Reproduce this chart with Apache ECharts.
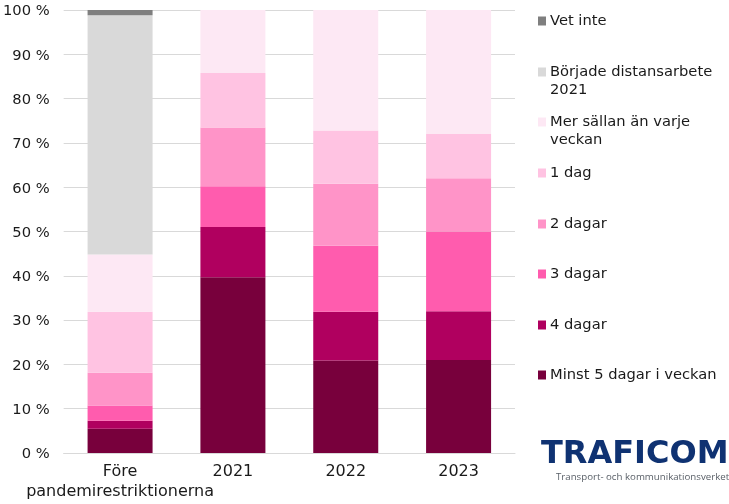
<!DOCTYPE html>
<html><head><meta charset="utf-8">
<script src="https://cdn.jsdelivr.net/npm/echarts@6/dist/echarts.min.js"></script>
<style>html,body{margin:0;padding:0;background:#fff}#c{width:729px;height:504px}</style>
</head><body><div id="c"></div>
<script>
const categories = ['Före\npandemirestriktionerna','2021','2022','2023'];
const minst5 = [5.5,39.7,20.9,21];
const dagar4 = [1.8,11.3,11,11];
const dagar3 = [3.4,9.2,14.9,18];
const dagar2 = [7.4,13.3,14,12];
const dag1 = [13.8,12.3,12,10];
const merSallan = [12.9,14.2,27.2,28];
const borjade = [54,0,0,0];
const vetInte = [1.2,0,0,0];
const tickFormat = v => '{a|' + v + ' %}';
const names = ['Minst 5 dagar i veckan','4 dagar','3 dagar','2 dagar','1 dag','Mer sällan än varje veckan','Började distansarbete 2021','Vet inte'];
const values = [minst5,dagar4,dagar3,dagar2,dag1,merSallan,borjade,vetInte];
const colors = ['#78003c','#b0005f','#ff5cae','#ff94c8','#ffc3e2','#fde8f4','#d9d9d9','#7f7f7f'];
const legendTops = [372,322,271,221,170,119,69,18];
const font = '"DejaVu Sans"';
const fs = 14.7;
const firstLine = {'Mer sällan än varje veckan':'Mer sällan än varje','Började distansarbete 2021':'Började distansarbete'};
const chart = echarts.init(document.getElementById('c'),null,{renderer:'canvas'});
chart.setOption({
  animation:false,
  backgroundColor:'#fff',
  grid:{left:63,top:10,width:452,height:443,containLabel:false},
  xAxis:{type:'category',data:categories,
    axisTick:{show:false},
    axisLine:{lineStyle:{color:'#d9d9d9',width:1}},
    axisLabel:{interval:0,color:'#1a1a1a',fontFamily:font,fontSize:16,lineHeight:20,margin:9,hideOverlap:false}},
  yAxis:{type:'value',min:0,max:100,interval:10,
    axisLine:{show:false},axisTick:{show:false},
    splitLine:{lineStyle:{color:'#d9d9d9',width:1}},
    axisLabel:{formatter:tickFormat,margin:14,
      rich:{a:{color:'#1a1a1a',fontFamily:font,fontSize:14.7,padding:[3,0,0,0]}}}},
  legend:names.map((n,i)=>({
    data:[n],left:538,top:legendTops[i]-4.5,orient:'vertical',padding:0,
    itemWidth:8,itemHeight:9,itemGap:0,itemStyle:{borderWidth:0},
    icon:'rect',selectedMode:false,
    formatter:s=>firstLine[s]||s,
    textStyle:{color:'#1a1a1a',fontFamily:font,fontSize:fs,padding:[0,0,0,-1]}
  })),
  series:names.map((n,i)=>({
    name:n,type:'bar',stack:'t',barWidth:65,
    data:values[i],itemStyle:{color:colors[i],borderWidth:0}
  })),
  graphic:[
    {type:'text',left:550,top:83,style:{text:'2021',font:fs+'px '+font,fill:'#1a1a1a'}},
    {type:'text',left:550,top:133,style:{text:'veckan',font:fs+'px '+font,fill:'#1a1a1a'}},
    {type:'text',left:541,top:439,style:{text:'TRAFICOM',font:'bold 32px "DejaVu Sans"',fill:'#0f3272'}},
    {type:'text',left:556,top:472,style:{text:'Transport- och kommunikationsverket',font:'9.7px "Open Sans"',fill:'#5a6068'}}
  ]
});
</script></body></html>
